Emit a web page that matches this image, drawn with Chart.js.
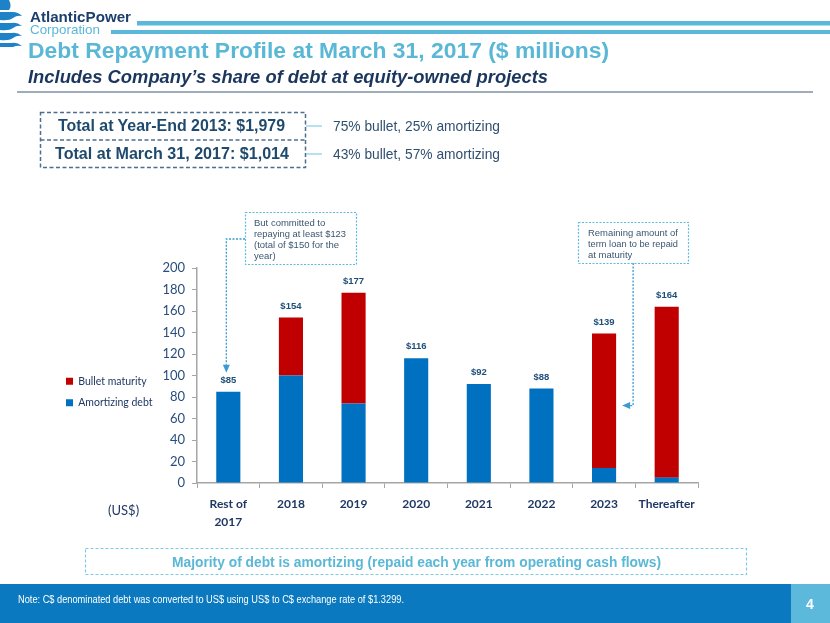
<!DOCTYPE html>
<html><head><meta charset="utf-8">
<script src="https://cdn.jsdelivr.net/npm/chart.js@4.4.0/dist/chart.umd.min.js"></script>
<style>
html,body{margin:0;padding:0;width:830px;height:623px;overflow:hidden;background:#fff;font-family:"Liberation Sans",Arial,sans-serif;}
.t{position:absolute;white-space:nowrap;transform-origin:0 50%;}
#chartWrap{position:absolute;left:0;top:200px;width:830px;height:340px;}
svg{position:absolute;left:0;top:0;pointer-events:none;}
</style></head><body>
<div id="chartWrap"><canvas id="c" width="830" height="340"></canvas></div>
<svg width="830" height="623">
  <rect x="137" y="21" width="693" height="4.5" fill="#5BB8DA"/>
  <rect x="111" y="30" width="719" height="4" fill="#5BB8DA"/>
  <g fill="#1E82C8">
    <path d="M0,0 H9 Q12,6 9,10 H0 Z"/>
    <path d="M0,12 H13 Q18,12 22,16 Q17,15 13,18 Q9,21 0,20 Z"/>
    <path d="M0,23 H12 Q17,22 22,26 Q17,25 13,28 Q9,31 0,30 Z"/>
    <path d="M0,33 H12 Q17,32 22,36 Q17,35 13,38 Q9,41 0,40 Z"/>
    <path d="M0,43 H12 Q17,42 22,46 Q17,45 13,47 H0 Z"/>
  </g>
  <line x1="17" y1="92" x2="813" y2="92" stroke="#3E5C7A" stroke-width="1.2"/>
  <rect x="40.5" y="112.5" width="265" height="55" fill="none" stroke="#4E6E8E" stroke-width="1.5" stroke-dasharray="4 2.5"/>
  <line x1="40.5" y1="140" x2="305.5" y2="140" stroke="#4E6E8E" stroke-width="1.5" stroke-dasharray="4 2.5"/>
  <line x1="306" y1="126" x2="322" y2="126" stroke="#86CDE6" stroke-width="1.2"/>
  <line x1="306" y1="154" x2="322" y2="154" stroke="#86CDE6" stroke-width="1.2"/>
  <rect x="245.5" y="212.5" width="111" height="52" fill="none" stroke="#5FBCDF" stroke-width="1.2" stroke-dasharray="2 1.5"/>
  <rect x="578.5" y="222.5" width="110" height="41" fill="none" stroke="#5FBCDF" stroke-width="1.2" stroke-dasharray="2 1.5"/>
  <rect x="85.5" y="548.5" width="661" height="26" fill="none" stroke="#7CCBE4" stroke-width="1.2" stroke-dasharray="3 2"/>
  <rect x="0" y="584" width="830" height="39" fill="#0A79BF"/>
  <rect x="791" y="584" width="39" height="39" fill="#5CB9DC"/>
</svg>
<div id="texts"></div>
<script>
// ---- data ----
const categories = [['Rest of','2017'],'2018','2019','2020','2021','2022','2023','Thereafter'];
const amortizingDebt = [85,100,74,116,92,88,14,5];
const bulletMaturity = [0,54,103,0,0,0,125,159];
const seriesNames = ['Amortizing debt','Bullet maturity'];
const yMin = 0, yMax = 200, yStep = 20;

// ---- texts ----
const texts = [
  {s:'AtlanticPower', x:30, cy:17, w:101, f:'bold 15px "Liberation Sans"', c:'#1D3F6E'},
  {s:'Corporation', x:30, cy:30, w:70, f:'13px "Liberation Sans"', c:'#5BB8DA'},
  {s:'Debt Repayment Profile at March 31, 2017 ($ millions)', x:28, cy:51, w:581, f:'bold 22px "Liberation Sans"', c:'#5AB8D6'},
  {s:'Includes Company\u2019s share of debt at equity-owned projects', x:28, cy:77, w:520, f:'italic bold 18px "Liberation Sans"', c:'#1B365D'},
  {s:'Total at Year-End 2013: $1,979', x:58, cy:126, w:227, f:'bold 16px "Liberation Sans"', c:'#1F4A6E'},
  {s:'Total at March 31, 2017: $1,014', x:55, cy:154, w:234, f:'bold 16px "Liberation Sans"', c:'#1F4A6E'},
  {s:'75% bullet, 25% amortizing', x:333, cy:126, w:167, f:'14.5px "Liberation Sans"', c:'#2F5070'},
  {s:'43% bullet, 57% amortizing', x:333, cy:154, w:167, f:'14.5px "Liberation Sans"', c:'#2F5070'},
  {s:'But committed to', x:254, cy:223, f:'9.5px "Liberation Sans"', c:'#3B5670'},
  {s:'repaying at least $123', x:254, cy:234, w:92, f:'9.5px "Liberation Sans"', c:'#3B5670'},
  {s:'(total of $150 for the', x:254, cy:245, f:'9.5px "Liberation Sans"', c:'#3B5670'},
  {s:'year)', x:254, cy:256, f:'9.5px "Liberation Sans"', c:'#3B5670'},
  {s:'Remaining amount of', x:588, cy:233, w:90, f:'9.5px "Liberation Sans"', c:'#3B5670'},
  {s:'term loan to be repaid', x:588, cy:244, w:90, f:'9.5px "Liberation Sans"', c:'#3B5670'},
  {s:'at maturity', x:588, cy:255, f:'9.5px "Liberation Sans"', c:'#3B5670'},
  {s:'(US$)', x:108, cy:510, f:'13px Lato', c:'#1F3864'},
  {s:'Majority of debt is amortizing (repaid each year from operating cash flows)', x:172, cy:562, w:489, f:'bold 14.5px "Liberation Sans"', c:'#5AB8D6'},
  {s:'Note: C$ denominated debt was converted to US$ using US$ to C$ exchange rate of $1.3299.', x:18, cy:600, w:386, f:'10px "Liberation Sans"', c:'#FFFFFF'},
  {s:'4', x:806, cy:604, f:'bold 14px "Liberation Sans"', c:'#FFFFFF'}
];
const holder = document.getElementById('texts');
texts.forEach(t=>{
  const d = document.createElement('div');
  d.className='t'; d.textContent=t.s;
  d.style.font=t.f; d.style.color=t.c; d.style.lineHeight='20px';
  d.style.left=t.x+'px'; d.style.top=(t.cy-10)+'px';
  holder.appendChild(d);
  if(t.w){ const ow=d.getBoundingClientRect().width; if(ow>0) d.style.transform='scaleX('+(t.w/ow)+')'; }
});

// ---- chart ----
const PAD_LEFT = 4, PLOT_LEFT = 197, LEGEND_LEFT = 55;
const labelPlugin = {
  id:'totals',
  afterUpdate(chart){
    const lg = chart.legend;
    if(lg){
      const h = lg.bottom - lg.top, w = lg.right - lg.left;
      lg.top = 165; lg.bottom = lg.top + h;
      lg.left = LEGEND_LEFT; lg.right = lg.left + w;
    }
  },
  afterDatasetsDraw(chart){
    const ctx = chart.ctx, ys = chart.scales.y, meta = chart.getDatasetMeta(0);
    ctx.save();
    ctx.font = 'bold 9.5px "Liberation Sans"';
    ctx.fillStyle = '#1F4E79'; ctx.textAlign='center'; ctx.textBaseline='middle';
    categories.forEach((c,i)=>{
      const total = amortizingDebt[i] + bulletMaturity[i];
      ctx.fillText('$'+total, meta.data[i].x, ys.getPixelForValue(total) - 11.5);
    });
    ctx.restore();
  },
  afterDraw(chart){
    const ctx = chart.ctx, ys = chart.scales.y, meta = chart.getDatasetMeta(0);
    const OFF = 200;
    ctx.save();
    ctx.strokeStyle = '#3C9AD3'; ctx.fillStyle = '#3C9AD3'; ctx.lineWidth = 1.3; ctx.setLineDash([2,1.5]);
    const x0 = meta.data[0].x - 2;
    const tip1 = ys.getPixelForValue(amortizingDebt[0]) - 19;
    ctx.beginPath(); ctx.moveTo(245, 239-OFF); ctx.lineTo(x0, 239-OFF); ctx.lineTo(x0, tip1-8); ctx.stroke();
    const b = meta.data[6];
    const right = b.x + b.width/2;
    const tipX = right + 6, vx = right + 17;
    const yA = ys.getPixelForValue(72);
    ctx.beginPath(); ctx.moveTo(vx, 263-OFF); ctx.lineTo(vx, yA); ctx.lineTo(tipX+8, yA); ctx.stroke();
    ctx.setLineDash([]);
    ctx.beginPath(); ctx.moveTo(x0-3.5, tip1-8); ctx.lineTo(x0+3.5, tip1-8); ctx.lineTo(x0, tip1); ctx.closePath(); ctx.fill();
    ctx.beginPath(); ctx.moveTo(tipX+8, yA-3.5); ctx.lineTo(tipX+8, yA+3.5); ctx.lineTo(tipX, yA); ctx.closePath(); ctx.fill();
    ctx.restore();
  }
};

new Chart(document.getElementById('c'), {
  type:'bar',
  data:{
    labels: categories,
    datasets:[
      {label:seriesNames[0], data:amortizingDebt, backgroundColor:'#0070C0', barPercentage:0.385, categoryPercentage:1},
      {label:seriesNames[1], data:bulletMaturity, backgroundColor:'#C00000', barPercentage:0.385, categoryPercentage:1}
    ]
  },
  options:{
    responsive:false, animation:false, devicePixelRatio:1,
    layout:{padding:{left:PAD_LEFT, right:132, top:68, bottom:0}},
    plugins:{
      legend:{position:'left', align:'start', reverse:true,
        labels:{boxWidth:7, boxHeight:7, padding:11, color:'#1F3864', font:{family:'Lato', size:10.5}}},
      tooltip:{enabled:false}
    },
    scales:{
      x:{stacked:true,
        grid:{drawOnChartArea:false, tickLength:5, color:'#A6A6A6', offset:true},
        border:{color:'#A6A6A6', width:1.5},
        ticks:{color:'#1F3864', font:{family:'Lato', size:12, weight:'bold', lineHeight:1.5}, padding:7, maxRotation:0, autoSkip:false},
        afterFit(s){ s.height = 57; }
      },
      y:{stacked:true, min:yMin, max:yMax,
        grid:{drawOnChartArea:false, tickLength:5, color:'#A6A6A6'},
        border:{color:'#A6A6A6', width:1.5},
        ticks:{stepSize:yStep, color:'#2A4D7E', font:{family:'Lato', size:13}, padding:7},
        afterFit(s){ const lg = s.chart.legend; s.width = PLOT_LEFT - PAD_LEFT - (lg ? lg.width : 0); }
      }
    }
  },
  plugins:[labelPlugin]
});
</script>
</body></html>
